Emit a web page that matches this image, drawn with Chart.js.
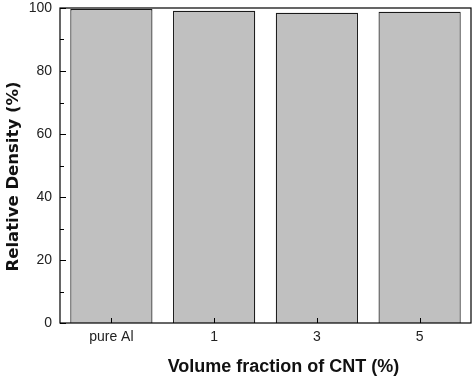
<!DOCTYPE html>
<html><head><meta charset="utf-8">
<script src="https://cdn.jsdelivr.net/npm/chart.js@4/dist/chart.umd.min.js"></script>
<style>html,body{margin:0;padding:0;background:#fff}canvas{display:block}</style>
</head><body>
<canvas id="c" width="473" height="378"></canvas>
<script>
const categories = ['pure Al', '1', '3', '5'];
const densityValues = [99.7, 99.1, 98.5, 98.8];
const yMajorTicks = [0, 20, 40, 60, 80, 100];
const yMinorTicks = [10, 30, 50, 70, 90];
const xTitle = 'Volume fraction of CNT (%)';
const yTitle = 'Relative Density (%)';

const frameTicks = {
  id: 'frameTicks',
  afterDraw(chart) {
    const ctx = chart.ctx, a = chart.chartArea;
    const x = chart.scales.x, y = chart.scales.y;
    ctx.save();
    ctx.strokeStyle = '#000';
    ctx.lineWidth = 1.2;
    ctx.strokeRect(a.left, a.top, a.right - a.left, a.bottom - a.top);
    ctx.lineWidth = 1;
    ctx.beginPath();
    yMajorTicks.forEach(v => { const p = Math.round(y.getPixelForValue(v)) + 0.5; ctx.moveTo(a.left, p); ctx.lineTo(a.left + 6, p); });
    yMinorTicks.forEach(v => { const p = Math.round(y.getPixelForValue(v)) + 0.5; ctx.moveTo(a.left, p); ctx.lineTo(a.left + 4, p); });
    categories.forEach((c, i) => { const p = Math.round(x.getPixelForValue(i)) + 0.5; ctx.moveTo(p, a.bottom); ctx.lineTo(p, a.bottom - 5); });
    ctx.stroke();
    // axis titles
    ctx.fillStyle = '#111';
    ctx.textAlign = 'center';
    ctx.textBaseline = 'middle';
    ctx.font = 'bold 18px "Liberation Sans"';
    ctx.fillText(xTitle, (a.left + a.right) / 2 + 18, 367);
    ctx.translate(14, (a.top + a.bottom) / 2 + 11);
    ctx.rotate(-Math.PI / 2);
    ctx.font = 'bold 16.5px "DejaVu Sans"';
    ctx.fillText(yTitle, 0, 0);
    ctx.restore();
  }
};

new Chart(document.getElementById('c'), {
  type: 'bar',
  data: {
    labels: categories,
    datasets: [{
      data: densityValues,
      backgroundColor: '#c0c0c0',
      borderColor: '#1a1a1a',
      borderWidth: 1.2,
      barPercentage: 0.8,
      categoryPercentage: 1.0
    }]
  },
  options: {
    responsive: false,
    animation: false,
    layout: { padding: { left: 0, top: 8, right: 2, bottom: 0 } },
    plugins: { legend: { display: false }, tooltip: { enabled: false } },
    scales: {
      x: {
        grid: { display: false, drawTicks: false },
        border: { display: false },
        ticks: { color: '#222', font: { family: 'Liberation Sans', size: 14 }, padding: 6, maxRotation: 0 },
        afterFit(s) { s.height = 55; s.paddingLeft = 0; s.paddingRight = 0; }
      },
      y: {
        min: 0, max: 100,
        grid: { display: false, drawTicks: false },
        border: { display: false },
        ticks: { stepSize: 20, color: '#222', font: { family: 'Liberation Sans', size: 14 }, padding: 8 },
        afterFit(s) { s.width = 60; s.paddingTop = 0; s.paddingBottom = 0; }
      }
    }
  },
  plugins: [frameTicks]
});
</script>
</body></html>
